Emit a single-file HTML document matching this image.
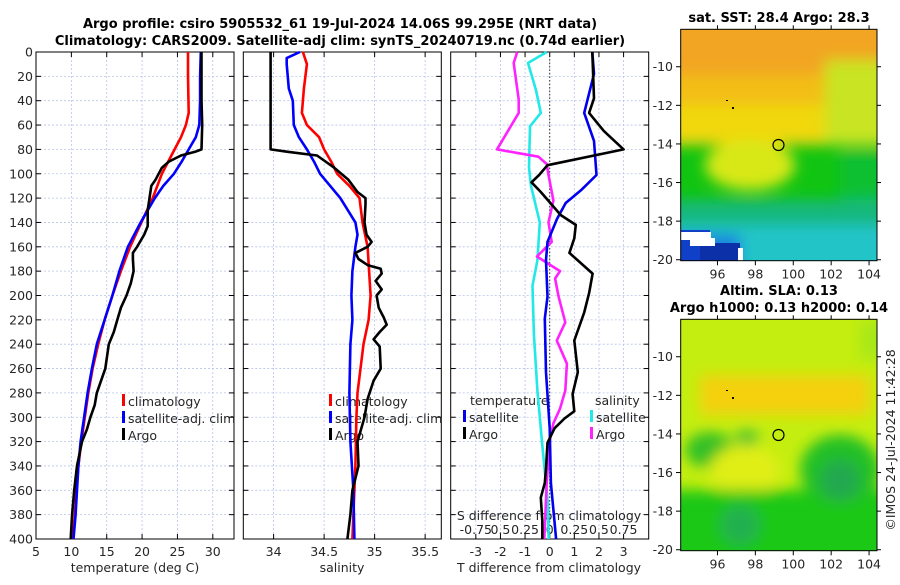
<!DOCTYPE html>
<html><head><meta charset="utf-8"><style>
body{margin:0;background:#fff;width:900px;height:580px;overflow:hidden}
svg text{font-family:"DejaVu Sans","Liberation Sans",sans-serif;fill:#262626}
.t{font-weight:bold;fill:#000;font-size:13px}
.tk{font-size:12.5px}
</style></head><body>
<svg id="s" width="900" height="580" xmlns="http://www.w3.org/2000/svg">
<defs>
<filter id="bl" filterUnits="userSpaceOnUse" x="600" y="0" width="300" height="580"><feGaussianBlur stdDeviation="7"/></filter>
<clipPath id="c1"><rect x="680.7" y="29.3" width="196.3" height="231.4"/></clipPath>
<clipPath id="c2"><rect x="680.7" y="319.3" width="196.3" height="231.4"/></clipPath>
</defs>
<text class="t" x="340" y="28" text-anchor="middle">Argo profile: csiro 5905532_61 19-Jul-2024 14.06S 99.295E (NRT data)</text>
<text class="t" x="340" y="45" text-anchor="middle">Climatology: CARS2009. Satellite-adj clim: synTS_20240719.nc (0.74d earlier)</text>

<g>
<text class="t" x="779" y="22" text-anchor="middle">sat. SST: 28.4 Argo: 28.3</text>
<g clip-path="url(#c1)">
<rect x="680" y="29" width="198" height="232" fill="#12c412"/>
<g filter="url(#bl)">
<rect x="660" y="10" width="240" height="70" fill="#f2a522"/>
<rect x="660" y="75" width="240" height="35" fill="#f3be18"/>
<rect x="660" y="105" width="240" height="40" fill="#f0d810"/>
<rect x="825" y="60" width="70" height="85" fill="#c8e420"/>
<ellipse cx="750" cy="165" rx="45" ry="25" fill="#d8e818"/>
<rect x="840" y="150" width="60" height="90" fill="#10c030"/>
<rect x="660" y="200" width="240" height="30" fill="#18b87c"/>
<rect x="660" y="225" width="240" height="50" fill="#20c4c8"/>
<rect x="670" y="235" width="70" height="40" fill="#1c7ee0"/>
</g>
<rect x="680" y="230" width="30" height="31" fill="#1040c8"/>
<rect x="700" y="243" width="40" height="18" fill="#0c30a8"/>
<rect x="681" y="232" width="30" height="8" fill="#fff"/>
<rect x="690" y="238" width="25" height="8" fill="#fff"/>
<rect x="738" y="248" width="5" height="13" fill="#fff"/>
</g>
<rect x="680.7" y="29.3" width="196.3" height="231.4" fill="none" stroke="#000"/>
<circle cx="778.5" cy="145" r="5.5" fill="none" stroke="#000" stroke-width="1.2"/>
<rect x="726" y="100" width="2" height="1" fill="#000"/><rect x="732" y="107" width="2" height="2" fill="#000"/>
</g>

<g>
<text class="t" x="779" y="295" text-anchor="middle">Altim. SLA: 0.13</text>
<text class="t" x="779" y="312" text-anchor="middle">Argo h1000: 0.13 h2000: 0.14</text>
<g clip-path="url(#c2)">
<rect x="680" y="319" width="198" height="232" fill="#c4ee10"/>
<g filter="url(#bl)">
<rect x="700" y="375" width="170" height="40" fill="#f4d010"/>
<ellipse cx="710" cy="450" rx="25" ry="18" fill="#30c028"/>
<ellipse cx="747" cy="438" rx="12" ry="8" fill="#40c030"/>
<ellipse cx="745" cy="470" rx="35" ry="25" fill="#e0ee18"/>
<rect x="660" y="490" width="240" height="80" fill="#1ec818"/>
<ellipse cx="840" cy="470" rx="40" ry="35" fill="#20c028"/>
<ellipse cx="840" cy="480" rx="20" ry="20" fill="#20a850"/>
<ellipse cx="740" cy="525" rx="20" ry="20" fill="#20b050"/>
<rect x="860" y="320" width="30" height="40" fill="#a8e818"/>
</g>
</g>
<rect x="680.7" y="319.3" width="196.3" height="231.4" fill="none" stroke="#000"/>
<circle cx="778.5" cy="435" r="5.5" fill="none" stroke="#000" stroke-width="1.2"/>
<rect x="726" y="390" width="2" height="1" fill="#000"/><rect x="732" y="397" width="2" height="2" fill="#000"/>
</g>
<text class="tk" transform="translate(895,440) rotate(-90)" text-anchor="middle">©IMOS 24-Jul-2024 11:42:28</text>
</svg>
<script>
// ---- data ----
const depthTicks=[0,20,40,60,80,100,120,140,160,180,200,220,240,260,280,300,320,340,360,380,400];
const tempTicks=[5,10,15,20,25,30];
const salTicks=[34,34.5,35,35.5];
const salTickLabels=["34","34.5","35","35.5"];
const tdTicks=[-3,-2,-1,0,1,2,3];
const sdTicks=[-0.75,-0.5,-0.25,0,0.25,0.5,0.75];
const sdTickLabels=["-0.75","0.5","0.25","0","0.25","0.5","0.75"];
const lonTicks=[96,98,100,102,104];
const latTicks=[-10,-12,-14,-16,-18,-20];

const tClimD=[0,20,50,60,70,80,90,100,120,140,160,180,200,220,240,260,280,300,320,340,360,380,400];
const tClimV=[26.5,26.5,26.6,26.2,25.5,24.6,23.7,22.8,21.5,19.9,18.3,17.0,15.8,14.7,13.8,13.0,12.4,11.9,11.4,11.0,10.7,10.5,10.2];
const tSatD=[0,20,40,60,70,80,90,100,110,120,130,140,160,180,200,220,240,260,280,300,320,340,360,380,400];
const tSatV=[28.3,28.2,28.2,28.1,27.6,26.6,25.6,24.5,23.0,21.8,20.8,19.8,18.0,16.8,15.8,14.7,13.6,12.9,12.3,11.8,11.3,11.0,10.8,10.6,10.3];
const tArgD=[0,40,60,80,82,85,90,95,105,110,130,143,150,160,165,170,180,190,200,210,220,230,240,260,280,290,300,310,320,340,360,380,400];
const tArgV=[28.4,28.4,28.5,28.4,27.5,25.5,23.8,22.8,21.9,21.3,20.8,20.8,20.3,19.3,18.7,18.7,18.8,18.4,17.8,17.0,16.5,16.0,15.3,14.8,13.6,13.3,12.7,12.2,11.5,10.8,10.4,10.1,9.9];

const sClimD=[0,10,30,50,60,70,80,90,100,110,120,140,160,200,220,240,260,280,300,340,380,400];
const sClimV=[34.29,34.33,34.3,34.28,34.33,34.45,34.5,34.57,34.63,34.75,34.85,34.88,34.93,34.96,34.94,34.89,34.86,34.83,34.82,34.81,34.79,34.78];
const sSatD=[0,5,10,30,40,60,70,80,90,100,110,120,140,150,160,180,200,220,240,280,320,360,400];
const sSatV=[34.26,34.13,34.13,34.15,34.19,34.2,34.25,34.33,34.4,34.46,34.56,34.66,34.81,34.83,34.81,34.78,34.77,34.78,34.76,34.75,34.76,34.79,34.8];
const sArgD=[0,80,82,85,95,105,115,120,125,140,150,156,160,165,170,175,178,182,188,195,200,210,218,224,230,236,242,260,270,285,300,320,340,360,380,400];
const sArgV=[33.97,33.97,34.14,34.43,34.6,34.74,34.83,34.91,34.91,34.9,34.92,34.97,34.93,34.81,34.84,34.93,35.06,35.07,35.01,35.07,35.02,35.04,35.09,35.12,35.05,34.99,35.05,35.06,34.99,34.93,34.9,34.83,34.84,34.78,34.76,34.73];

const dTArgD=[0,38,50,65,80,93,101,107,115,134,142,153,165,182,198,214,237,263,281,295,301,309,321,342,354,366,385,400];
const dTArgV=[1.73,1.8,1.6,2.2,3.0,-0.09,-0.43,-0.74,-0.36,0.45,1.06,1.0,0.8,1.74,1.6,1.4,1.0,1.14,0.93,1.0,0.6,0.2,-0.09,-0.15,-0.2,-0.36,-0.3,-0.3];
const dTSatD=[0,18,50,73,101,113,124,137,156,171,201,219,263,309,354,400];
const dTSatV=[1.73,1.8,1.4,1.8,1.9,1.3,0.65,0.3,-0.09,-0.15,-0.09,-0.2,-0.15,0,0.05,0.26];
const dSSatD=[0,9,31,50,61,95,110,140,171,192,232,278,323,369,400];
const dSSatV=[-0.03,-0.22,-0.14,-0.09,-0.2,-0.21,-0.19,-0.1,-0.125,-0.175,-0.16,-0.125,-0.075,-0.02,-0.01];
const dSArgD=[0,9,39,50,80,86,92,101,122,140,156,168,180,186,201,222,237,256,278,293,305,318,354,400];
const dSArgV=[-0.33,-0.365,-0.315,-0.315,-0.535,-0.115,-0.03,-0.012,0.038,-0.012,0.02,-0.13,0.105,0.055,0.09,0.158,0.072,0.175,0.158,0.105,0.038,0.003,-0.03,-0.055];

// ---- axes ----
const svg=document.getElementById('s');
const NS='http://www.w3.org/2000/svg';
const Y0=52,Y1=539;
function yD(d){return Y0+(Y1-Y0)*d/400;}
const P1={x0:36,x1:234,a:5,b:33.0};
const P2={x0:243.3,x1:441.3,a:33.7,b:35.66};
const P3={x0:450.7,x1:648.7,a:-4.02,b:4.02};
function xs(p,v){return p.x0+(v-p.a)*(p.x1-p.x0)/(p.b-p.a);}
function mk(tag,attrs,parent){const e=document.createElementNS(NS,tag);for(const k in attrs)e.setAttribute(k,attrs[k]);(parent||svg).appendChild(e);return e;}
function txt(x,y,s,anchor,cls,parent){const t=mk('text',{x:x,y:y,'text-anchor':anchor||'start','class':cls||'tk'},parent);t.textContent=s;return t;}

function panel(p,name,xt,xl,yLabels){
  const g=mk('g',{});
  
  
  depthTicks.forEach(d=>{mk('line',{x1:p.x0,x2:p.x1,y1:yD(d),y2:yD(d),stroke:'#b8c4e8','stroke-width':0.8,'stroke-dasharray':'2,2'},g);
    mk('line',{x1:p.x0,x2:p.x0+5,y1:yD(d),y2:yD(d),stroke:'#000'},g);mk('line',{x1:p.x1-5,x2:p.x1,y1:yD(d),y2:yD(d),stroke:'#000'},g);
    if(yLabels){const t=txt(p.x0-3,yD(d)+4.5,String(d),'end','tk',g);}});
  xt.forEach((v,i)=>{const x=xs(p,v);mk('line',{x1:x,x2:x,y1:Y0,y2:Y1,stroke:'#b8c4e8','stroke-width':0.8,'stroke-dasharray':'2,2'},g);
    mk('line',{x1:x,x2:x,y1:Y1-5,y2:Y1,stroke:'#000'},g);mk('line',{x1:x,x2:x,y1:Y0,y2:Y0+5,stroke:'#000'},g);
    const t=txt(x,556,xl[i],'middle','tk',g);});
  mk('rect',{x:p.x0,y:Y0,width:p.x1-p.x0,height:Y1-Y0,fill:'none',stroke:'#000','stroke-width':1},g);
  return g;
}
function line(p,D,V,col,name,f){
  let s='';D.forEach((d,i)=>{s+=(i?'L':'M')+xs(p,f?f(V[i]):V[i]).toFixed(1)+','+yD(d).toFixed(1);});
  const e=mk('path',{d:s,fill:'none',stroke:col,'stroke-width':2.6,'stroke-linejoin':'round'});
  
  
}
function legend(x,y,items,g){items.forEach((it,i)=>{mk('rect',{x:x,y:y+i*17-12,width:3,height:12,fill:it[0]},g);const t=txt(x+6,y+i*17,it[1],'start','tk',g);});}

const g1=panel(P1,'temperature-panel',tempTicks,tempTicks.map(String),true);
txt(135,572,'temperature (deg C)','middle','tk',g1);
line(P1,tClimD,tClimV,'#ff0000','temp-climatology-line');
line(P1,tSatD,tSatV,'#0000ff','temp-satellite-line');
line(P1,tArgD,tArgV,'#000000','temp-argo-line');
legend(122,406,[['#ff0000','climatology'],['#0000ff','satellite-adj. clim'],['#000000','Argo']],g1);

const g2=panel(P2,'salinity-panel',salTicks,salTickLabels,false);
txt(342,572,'salinity','middle','tk',g2);
line(P2,sClimD,sClimV,'#ff0000','sal-climatology-line');
line(P2,sSatD,sSatV,'#0000ff','sal-satellite-line');
line(P2,sArgD,sArgV,'#000000','sal-argo-line');
legend(329,406,[['#ff0000','climatology'],['#0000ff','satellite-adj. clim'],['#000000','Argo']],g2);

const g3=panel(P3,'difference-panel',tdTicks,tdTicks.map(String),false);
mk('line',{x1:xs(P3,0),x2:xs(P3,0),y1:Y0,y2:Y1,stroke:'#333','stroke-width':1,'stroke-dasharray':'1.5,2'},g3);
line(P3,dSSatD,dSSatV,'#22e8e8','sal-diff-satellite-line',v=>v*4);
line(P3,dSArgD,dSArgV,'#ff22ff','sal-diff-argo-line',v=>v*4);
line(P3,dTSatD,dTSatV,'#0000ee','temp-diff-satellite-line');
line(P3,dTArgD,dTArgV,'#000000','temp-diff-argo-line');
txt(549,572,'T difference from climatology','middle','tk',g3);
txt(549,520,'S difference from climatology','middle','tk',g3);
sdTicks.forEach((v,i)=>{const t=txt(xs(P3,v*4),534,sdTickLabels[i],'middle','tk',g3);});
txt(470,405,'temperature','start','tk',g3);
txt(595,405,'salinity','start','tk',g3);
legend(463,422,[['#0000ee','satellite'],['#000000','Argo']],g3);
legend(590,422,[['#22e8e8','satellite'],['#ff22ff','Argo']],g3);

// map axes
function mapAxes(top,name){
  const g=mk('g',{});
  
  
  const lx=v=>680.7+(v-94.06)*18.95, ly=v=>top+(-8.06-v)*19.3;
  lonTicks.forEach(v=>{mk('line',{x1:lx(v),x2:lx(v),y1:top+231.4,y2:top+236,stroke:'#000'},g);mk('line',{x1:lx(v),x2:lx(v),y1:top-4,y2:top,stroke:'#000'},g);txt(lx(v),top+249,String(v),'middle','tk',g);});
  latTicks.forEach(v=>{mk('line',{x1:676,x2:680.7,y1:ly(v),y2:ly(v),stroke:'#000'},g);mk('line',{x1:877,x2:881,y1:ly(v),y2:ly(v),stroke:'#000'},g);txt(673,ly(v)+4.5,String(v),'end','tk',g);});
}
mapAxes(29.3,'sst-map-axes');
mapAxes(319.3,'sla-map-axes');
</script>
</body></html>
